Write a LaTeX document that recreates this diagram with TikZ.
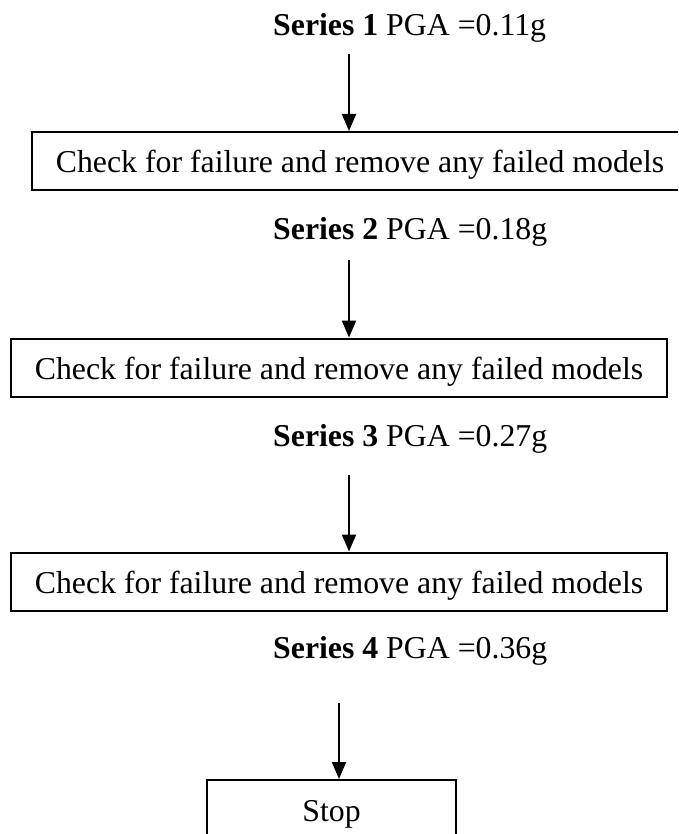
\documentclass[tikz,border=0pt]{standalone}
\usepackage{fontspec}
\setmainfont{Liberation Serif}
\usetikzlibrary{arrows.meta}
\begin{document}
\begin{tikzpicture}[x=1pt,y=-1pt,
  every node/.style={font=\fontsize{31.8}{38}\selectfont},
  stepbox/.style={draw, line width=2pt, minimum width=656pt, minimum height=58pt,
    inner sep=0pt, text height=24pt, text depth=0pt},
  stopbox/.style={stepbox, minimum width=249pt},
  serieslbl/.style={anchor=base west, inner sep=0pt},
  flowarrow/.style={line width=2pt, -{Triangle[length=17pt,width=14pt]}}]
\useasboundingbox (0,0) rectangle (678,834);
\clip (0,0) rectangle (678,834);

\node[serieslbl] (s1) at (273,36) {\textbf{Series 1} PGA =0.11g};
\node[stepbox] (b1) at (360,161) {Check for failure and remove any failed models};
\node[serieslbl] (s2) at (273,240) {\textbf{Series 2} PGA =0.18g};
\node[stepbox] (b2) at (339,367.5) {Check for failure and remove any failed models};
\node[serieslbl] (s3) at (273,446) {\textbf{Series 3} PGA =0.27g};
\node[stepbox] (b3) at (339,581.5) {Check for failure and remove any failed models};
\node[serieslbl] (s4) at (273,658) {\textbf{Series 4} PGA =0.36g};
\node[stopbox] (stop) at (331.5,809) {Stop};

\coordinate (t1) at (349,54);
\coordinate (t2) at (349,260);
\coordinate (t3) at (349,475);
\coordinate (t4) at (339,703);
\draw[flowarrow] (t1) -- (t1 |- b1.north);
\draw[flowarrow] (t2) -- (t2 |- b2.north);
\draw[flowarrow] (t3) -- (t3 |- b3.north);
\draw[flowarrow] (t4) -- (t4 |- stop.north);
\end{tikzpicture}
\end{document}
